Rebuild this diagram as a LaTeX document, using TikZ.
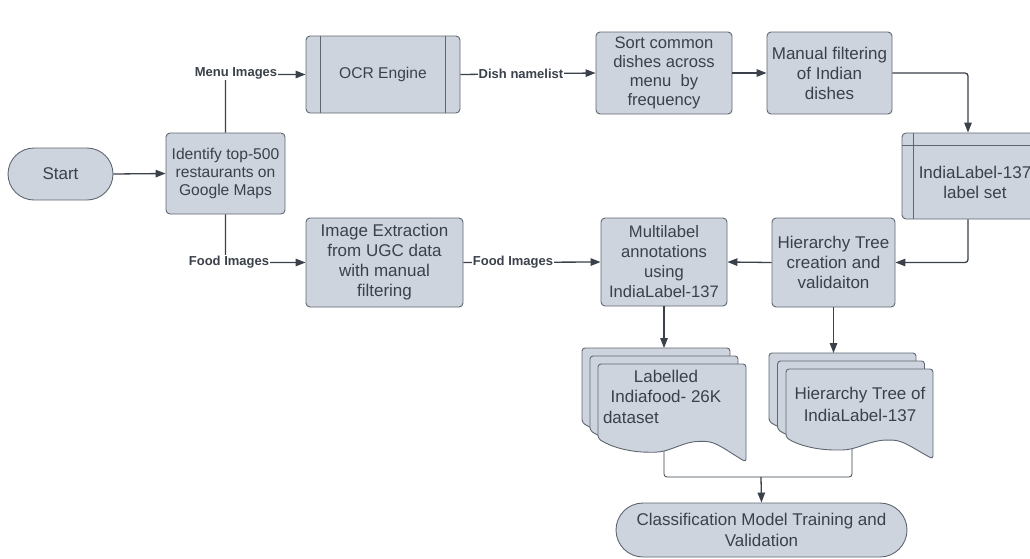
\documentclass[tikz,border=0pt]{standalone}
\usepackage{fontspec}
\setmainfont{Liberation Sans}
\usetikzlibrary{arrows.meta,shapes.misc}
\definecolor{boxfill}{HTML}{CED4DE}
\definecolor{boxline}{HTML}{5E6670}
\definecolor{ink}{HTML}{3A414A}
\begin{document}
\begin{tikzpicture}[x=1pt,y=-1pt,
  box/.style={draw=boxline, fill=boxfill, line width=0.9pt, rounded corners=4pt, align=center, text=ink, font=\fontsize{17}{20}\selectfont, inner sep=0pt},
  term/.style={rounded rectangle, draw=boxline, fill=boxfill, line width=0.9pt, align=center, text=ink, font=\fontsize{17}{21}\selectfont, inner sep=0pt},
  conn/.style={draw=ink, line width=1.3pt, -{Triangle[length=10pt,width=7.5pt]}, rounded corners=3pt},
  plain/.style={draw=ink, line width=0.8pt, rounded corners=3pt},
  lab/.style={fill=white, text=ink, font=\bfseries\fontsize{13}{15}\selectfont, inner sep=1pt},
  sheet/.style={draw=boxline, fill=boxfill, line width=0.9pt, rounded corners=3pt},
  txt/.style={text=ink, align=center, font=\fontsize{17}{20.5}\selectfont, inner sep=0pt}
]
\useasboundingbox (0,0) rectangle (1030,558);
\clip (0,0) rectangle (1030,558);

% document sheet shape
\newcommand{\docsheet}[4]{%
  \draw[sheet, shift={(#1,#2)}, yscale=#4/100]
    (0,76) -- (0,0) -- (#3,0) -- (#3,100)
    .. controls (#3-20,88) and (#3-30,79) .. (#3-44,79)
    .. controls (#3-63,79) and (#3-76,90) .. (#3-94,90)
    .. controls (#3-118,90) and (#3-136,84) .. (0,76) -- cycle;}

% bottom merge connectors (drawn first, hidden by sheets)
\coordinate (docAbot) at (664,430);
\coordinate (docBbot) at (852,430);
\coordinate (merge) at (761,477);

\node[term, minimum width=105, minimum height=52] (start) at (60.5,174) {Start};
\node[box, minimum width=119, minimum height=81, font=\fontsize{15.6}{18}\selectfont] (id) at (225.5,173.5) {Identify top-500\\restaurants on\\Google Maps};
\node[box, minimum width=154, minimum height=77, font=\fontsize{15.6}{18}\selectfont] (ocr) at (383,74.5) {OCR Engine};
\draw[boxline, line width=0.9pt] ([xshift=15pt]ocr.north west) -- ([xshift=15pt]ocr.south west);
\draw[boxline, line width=0.9pt] ([xshift=-15pt]ocr.north east) -- ([xshift=-15pt]ocr.south east);
\node[box, minimum width=136, minimum height=82, font=\fontsize{16.6}{19}\selectfont] (sort) at (664,73) {Sort common\\dishes across\\menu~~by\\frequency};
\node[box, minimum width=125, minimum height=82, font=\fontsize{17}{20}\selectfont] (man) at (829.5,73) {Manual filtering\\of Indian\\dishes};
\node[box, minimum width=146, minimum height=86] (lbl) at (975,176) {};
\draw[boxline, line width=0.9pt] ([yshift=-13pt]lbl.north west) -- ([yshift=-13pt]lbl.north east);
\draw[boxline, line width=0.9pt] ([xshift=12pt]lbl.north west) -- ([xshift=12pt]lbl.south west);
\node[txt, font=\fontsize{17}{20}\selectfont] (lbltext) at (975,182) {IndiaLabel-137\\label set};
\node[box, minimum width=123, minimum height=89, font=\fontsize{17}{20}\selectfont] (hier) at (833.5,262.5) {Hierarchy Tree\\creation and\\validaiton};
\node[box, minimum width=126, minimum height=88, font=\fontsize{16.6}{20}\selectfont] (mul) at (664,262) {Multilabel\\annotations\\using\\IndiaLabel-137};
\node[box, minimum width=157, minimum height=89, font=\fontsize{17}{20}\selectfont] (ext) at (384.5,262.5) {Image Extraction\\from UGC data\\with manual\\filtering};
\node[term, minimum width=291, minimum height=54] (cls) at (761.5,530) {Classification Model Training and\\Validation};

\draw[plain] (docAbot) |- (merge);
\draw[plain] (docBbot) |- (merge);
\draw[conn] (merge) -- (cls.north);

\docsheet{582}{348}{148}{98}
\docsheet{590}{356}{148}{98}
\docsheet{598}{364}{148}{98}
\coordinate (docAtop) at (664,348);
\node[txt, font=\fontsize{17}{20.5}\selectfont] (docAtext) at (666,396.5) {Labelled\\Indiafood- 26K\\\makebox[126pt][l]{dataset}};

\docsheet{769}{353}{147}{90}
\docsheet{777.5}{361}{147}{90}
\docsheet{786}{369}{147}{90}
\coordinate (docBtop) at (833.5,353);
\node[txt, font=\fontsize{17}{22}\selectfont] (docBtext) at (860,404) {Hierarchy Tree of\\IndiaLabel-137};

% connectors
\draw[conn] (start.east) -- (id.west);
\draw[conn] (id.north) |- (ocr.west);
\node[lab] (lmenu) at (236,73) {Menu Images};
\draw[conn] (id.south) |- (ext.west);
\node[lab] (lfood1) at (229,262) {Food Images};
\draw[conn] (ocr.east) -- (sort.west);
\node[lab] (ldish) at (521,74) {Dish namelist};
\draw[conn] (sort.east) -- (man.west);
\draw[conn] (man.east) -| ([xshift=-7pt]lbl.north);
\draw[conn] ([xshift=-7pt]lbl.south) |- (hier.east);
\draw[conn] (hier.west) -- (mul.east);
\draw[conn] (ext.east) -- (mul.west);
\node[lab] (lfood2) at (513,262) {Food Images};
\draw[conn] (mul.south) -- (docAtop);
\draw[conn] (hier.south) -- (docBtop);
\end{tikzpicture}
\end{document}
